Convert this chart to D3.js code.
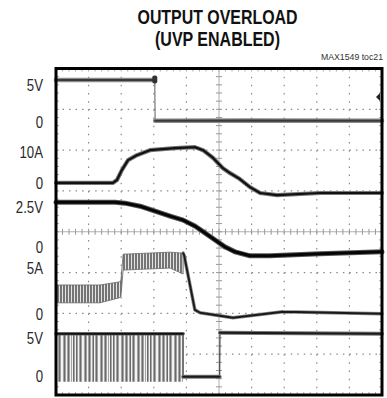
<!DOCTYPE html>
<html>
<head>
<meta charset="utf-8" />
<script src="https://d3js.org/d3.v7.min.js"></script>
<style>
  body { margin: 0; background: #fff; }
  svg { display: block; }
  .title { font: bold 19.5px "Liberation Sans", Arial, sans-serif; text-anchor: middle; fill: #111; }
  .label { font: 16.5px "Liberation Sans", Arial, sans-serif; fill: #2a2a2a; text-anchor: end; }
  .note { font: 9.5px "Liberation Sans", Arial, sans-serif; fill: #333; text-anchor: end; }
</style>
</head>
<body>
<script>
// time axis is in scope divisions, 10 across the screen

// CH1: 5V rail (shuts off at the trigger point)
var ch1Time  = [0, 1.5, 3.03, 3.04, 6, 10];
var ch1Volts = [5.7, 5.7, 5.7, 0.15, 0.2, 0.15];
var ch1Ticks = [5, 0], ch1TickLabels = ["5V", "0"];

// CH2: load current
var ch2Time = [0, 1.75, 1.87, 2.02, 2.21, 2.48, 2.88, 3.65, 4.26, 4.51, 4.82, 5.12, 5.34, 5.64, 5.95, 6.26, 6.78, 8.10, 10];
var ch2Amps = [0, 0, 0.9, 4.1, 7.3, 8.9, 10.5, 11.2, 11.5, 10.5, 8.0, 4.7, 3.1, 1.2, -1.4, -3.3, -4.0, -3.3, -3.3];
var ch2Ticks = [10, 0], ch2TickLabels = ["10A", "0"];

// CH3: output voltage
var ch3Time  = [0, 1.81, 2.12, 2.58, 3.04, 3.50, 3.90, 4.26, 4.57, 4.88, 5.18, 5.49, 5.95, 6.56, 8.10, 10];
var ch3Volts = [2.79, 2.79, 2.73, 2.54, 2.23, 1.92, 1.67, 1.30, 0.87, 0.43, 0, -0.31, -0.56, -0.56, -0.43, -0.31];
var ch3Ticks = [2.5, 0], ch3TickLabels = ["2.5V", "0"];

// CH4: inductor current, ripple envelope while switching then single trace
var ch4RippleTime = [0, 1.35, 1.93, 1.99, 2.06, 3.50, 3.90];
var ch4RippleHigh = [3.15, 3.15, 3.48, 3.59, 6.52, 6.74, 6.63];
var ch4RippleLow  = [1.20, 1.20, 1.74, 1.85, 4.78, 5.00, 4.35];
var ch4Time = [3.90, 3.93, 4.11, 4.26, 4.42, 5.43, 6.96, 10];
var ch4Amps = [6.63, 6.41, 3.15, 0.43, 0.11, -0.43, 0.22, 0];
var ch4Ticks = [5, 0], ch4TickLabels = ["5A", "0"];

// CH5: LX node, switching band then low / high
var ch5SwitchTime = [0, 3.90];
var ch5SwitchHigh = [5.53, 5.53];
var ch5SwitchLow  = [-0.79, -0.79];
var ch5Time  = [3.90, 3.90, 5.02, 5.03, 10];
var ch5Volts = [5.53, -0.13, -0.13, 5.66, 5.53];
var ch5Ticks = [5, 0], ch5TickLabels = ["5V", "0"];

var triggerTime = 3.03, triggerLevel = 3.4;

var W = 387, H = 398;
var pL = 56, pR = 382, pT = 68.5, pB = 395;

var x = d3.scaleLinear().domain([0, 10]).range([pL, pR]);
var div = d3.scaleLinear().domain([0, 8]).range([pB, pT]);

// each channel: screen position (in divisions) of its zero and of its top label
function chScale(zero, at, value) {
  return d3.scaleLinear().domain([0, value]).range([div(zero), div(at)]);
}
var y1 = chScale(6.69, 7.59, 5);
var y2 = chScale(5.20, 5.96, 10);
var y3 = chScale(3.63, 4.61, 2.5);
var y4 = chScale(1.99, 3.11, 5);
var y5 = chScale(0.47, 1.40, 5);

var svg = d3.select("body").append("svg")
  .attr("width", W)
  .attr("height", H);

var defs = svg.append("defs");
var rip = defs.append("pattern")
  .attr("id", "ripple")
  .attr("patternUnits", "userSpaceOnUse")
  .attr("width", 3).attr("height", 40);
rip.append("rect").attr("width", 3).attr("height", 40).attr("fill", "#e4e4e4");
rip.append("line").attr("x1", 1).attr("x2", 1).attr("y1", 0).attr("y2", 40)
  .attr("stroke", "#454545").attr("stroke-width", 1.4);

var sw = defs.append("pattern")
  .attr("id", "switching")
  .attr("patternUnits", "userSpaceOnUse")
  .attr("width", 37).attr("height", 60);
sw.append("rect").attr("width", 37).attr("height", 60).attr("fill", "#a4a4a4");
[1, 4, 8, 9, 13, 17, 20, 24, 25, 29, 33, 35].forEach(function(o) {
  sw.append("line").attr("x1", o + 0.5).attr("x2", o + 0.5).attr("y1", 0).attr("y2", 60)
    .attr("stroke", "#f2f2f2").attr("stroke-width", 1);
});
[2, 6, 11, 15, 19, 22, 27, 31, 36].forEach(function(o) {
  sw.append("line").attr("x1", o + 0.5).attr("x2", o + 0.5).attr("y1", 0).attr("y2", 60)
    .attr("stroke", "#6a6a6a").attr("stroke-width", 1);
});

// titles
svg.append("text").attr("class", "title")
  .attr("x", 217.5).attr("y", 23.5)
  .attr("textLength", 160).attr("lengthAdjust", "spacingAndGlyphs")
  .text("OUTPUT OVERLOAD");
svg.append("text").attr("class", "title")
  .attr("x", 217.5).attr("y", 45.5)
  .attr("textLength", 125).attr("lengthAdjust", "spacingAndGlyphs")
  .text("(UVP ENABLED)");
svg.append("text").attr("class", "note")
  .attr("transform", "translate(383 59.5) scale(0.92 1)")
  .text("MAX1549 toc21");

// grid
var grid = svg.append("g");
var vStep = (pB - pT) / 40, hStep = (pR - pL) / 50;
d3.range(1, 10).filter(function(k) { return k != 5; }).forEach(function(k) {
  grid.append("line")
    .attr("x1", x(k)).attr("x2", x(k)).attr("y1", pT).attr("y2", pB)
    .attr("stroke", "#8a8a8a").attr("stroke-width", 1.2)
    .attr("stroke-dasharray", "1.5 " + (vStep - 1.5));
});
d3.range(1, 8).filter(function(k) { return k != 4; }).forEach(function(k) {
  grid.append("line")
    .attr("x1", pL).attr("x2", pR).attr("y1", div(k)).attr("y2", div(k))
    .attr("stroke", "#8a8a8a").attr("stroke-width", 1.2)
    .attr("stroke-dasharray", "1.5 " + (hStep - 1.5));
});
// center axes with minor ticks
grid.append("line")
  .attr("x1", pL).attr("x2", pR).attr("y1", div(4)).attr("y2", div(4))
  .attr("stroke", "#b0b0b0");
grid.append("line")
  .attr("x1", x(5)).attr("x2", x(5)).attr("y1", pT).attr("y2", pB)
  .attr("stroke", "#b0b0b0");
d3.range(1, 50).forEach(function(i) {
  var xx = pL + i * hStep;
  grid.append("line").attr("x1", xx).attr("x2", xx)
    .attr("y1", div(4) - 3).attr("y2", div(4) + 3).attr("stroke", "#999");
  grid.append("line").attr("x1", xx).attr("x2", xx)
    .attr("y1", pB - 3).attr("y2", pB).attr("stroke", "#aaa");
  grid.append("line").attr("x1", xx).attr("x2", xx)
    .attr("y1", pT).attr("y2", pT + 3).attr("stroke", "#aaa");
});
d3.range(1, 40).forEach(function(i) {
  var yy = pT + i * vStep;
  grid.append("line").attr("x1", x(5) - 3).attr("x2", x(5) + 3)
    .attr("y1", yy).attr("y2", yy).attr("stroke", "#999");
  grid.append("line").attr("x1", pL).attr("x2", pL + 3)
    .attr("y1", yy).attr("y2", yy).attr("stroke", "#aaa");
  grid.append("line").attr("x1", pR - 3).attr("x2", pR)
    .attr("y1", yy).attr("y2", yy).attr("stroke", "#aaa");
});

// channel labels (condensed by a horizontal squeeze)
function labels(scale, ticks, names) {
  svg.selectAll(null).data(ticks).enter().append("text")
    .attr("class", "label")
    .attr("transform", function(d) { return "translate(43 " + scale(d) + ") scale(0.8 1)"; })
    .attr("dy", "0.36em")
    .text(function(d, i) { return names[i]; });
}
labels(y1, ch1Ticks, ch1TickLabels);
labels(y2, ch2Ticks, ch2TickLabels);
labels(y3, ch3Ticks, ch3TickLabels);
labels(y4, ch4Ticks, ch4TickLabels);
labels(y5, ch5Ticks, ch5TickLabels);

var traces = svg.append("g");

// slow parts of a trace are drawn thick and fuzzy, fast vertical edges thin
function trace(scale, t, v, under, core, wu, wc, edge) {
  var pts = d3.zip(t, v).map(function(d) { return [x(d[0]), scale(d[1])]; });
  var slow = [], fast = [];
  for (var i = 1; i < pts.length; i++) {
    var a = pts[i - 1], b = pts[i];
    var seg = "M" + a[0] + "," + a[1] + "L" + b[0] + "," + b[1];
    if (Math.abs(b[0] - a[0]) < 1.5 && Math.abs(b[1] - a[1]) > 6) fast.push(seg);
    else slow.push(seg);
  }
  traces.append("path").attr("d", fast.join(""))
    .attr("fill", "none").attr("stroke", edge || "#777").attr("stroke-width", 1.2);
  traces.append("path").attr("d", slow.join(""))
    .attr("fill", "none").attr("stroke", under).attr("stroke-width", wu)
    .attr("stroke-linecap", "round");
  traces.append("path").attr("d", slow.join(""))
    .attr("fill", "none").attr("stroke", core).attr("stroke-width", wc)
    .attr("stroke-linecap", "round");
}

function band(scale, t, hi, lo, fill, edge) {
  var area = d3.area()
    .x(function(d) { return x(d[0]); })
    .y0(function(d) { return scale(d[2]); })
    .y1(function(d) { return scale(d[1]); });
  traces.append("path").attr("d", area(d3.zip(t, hi, lo)))
    .attr("fill", fill).attr("stroke", edge).attr("stroke-width", 0.8);
}

// CH5
band(y5, ch5SwitchTime, ch5SwitchHigh, ch5SwitchLow, "url(#switching)", "none");
trace(y5, ch5SwitchTime, ch5SwitchHigh, "#666", "#111", 3.5, 1.8);
trace(y5, ch5Time, ch5Volts, "#777", "#1a1a1a", 4, 2, "#444");

// CH4
band(y4, ch4RippleTime, ch4RippleHigh, ch4RippleLow, "url(#ripple)", "#666");
trace(y4, ch4Time, ch4Amps, "#888", "#1a1a1a", 3.5, 1.9);

// CH3
trace(y3, ch3Time, ch3Volts, "#555", "#050505", 5, 3);

// CH2
trace(y2, ch2Time, ch2Amps, "#777", "#111", 4.2, 2.2);

// CH1
trace(y1, ch1Time, ch1Volts, "#8a8a8a", "#3a3a3a", 4.5, 2);

// trigger markers
svg.append("rect")
  .attr("x", x(triggerTime) - 2.5).attr("y", y1(5.7) - 4.5)
  .attr("width", 5).attr("height", 8).attr("rx", 2)
  .attr("fill", "#333");
svg.append("path")
  .attr("d", d3.line()([[pR - 6, y1(triggerLevel)], [pR - 2, y1(triggerLevel) - 4], [pR - 2, y1(triggerLevel) + 4]]))
  .attr("fill", "#222");

// frame
svg.append("rect")
  .attr("x", pL).attr("y", pT)
  .attr("width", pR - pL).attr("height", pB - pT)
  .attr("fill", "none").attr("stroke", "#000").attr("stroke-width", 3);
</script>
</body>
</html>
